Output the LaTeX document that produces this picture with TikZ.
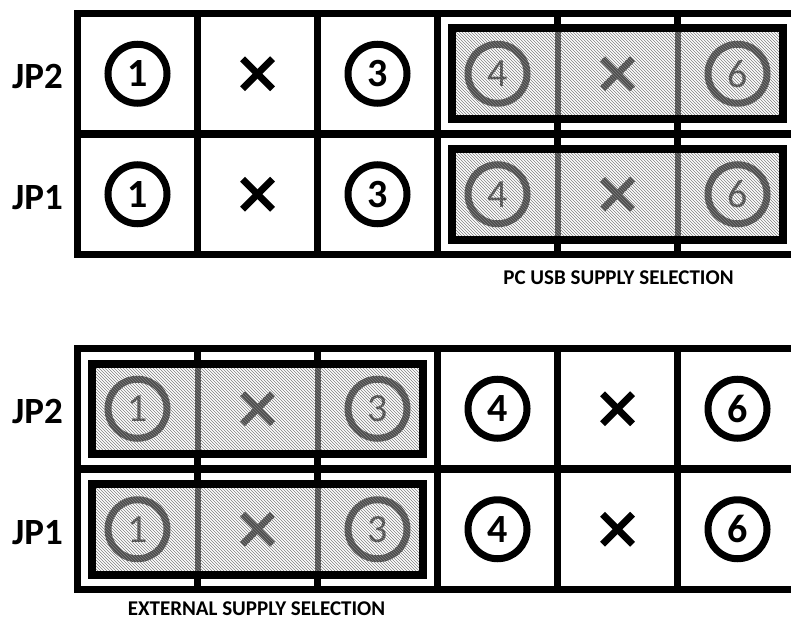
\documentclass[tikz,border=0pt]{standalone}
\usepackage{fontspec}
\setmainfont{Carlito}
\usetikzlibrary{patterns}
\definecolor{pingrey}{gray}{0.3}
\definecolor{hatchgrey}{gray}{0.5}
\tikzset{
  gridline/.style={line width=7.5pt, line join=miter},
  hlbox/.style={line width=8pt, line join=miter},
  jplabel/.style={font=\bfseries\fontsize{37}{37}\selectfont, anchor=east, inner sep=0pt},
  pinring/.style={circle, draw, line width=7pt, minimum size=59pt, inner sep=0pt, font=\fontsize{40}{40}\selectfont},
  xmark/.style={line width=7pt},
  caption/.style={font=\bfseries\fontsize{21}{21}\selectfont, inner sep=0pt},
}
\newcommand\jpblock[3]{%
  \pgfmathsetmacro\ya{#1}%
  \pgfmathsetmacro\yb{#1+120.5}%
  \pgfmathsetmacro\yc{#1+241}%
  \draw[gridline] (77.5,\ya) rectangle (797.5,\yc);
  \draw[gridline] (77.5,\yb) -- (797.5,\yb);
  \foreach \xx in {197.5,317.5,437.5,557.5,677.5} \draw[gridline] (\xx,\ya) -- (\xx,\yc);
  \pgfmathsetmacro\hxa{77.5+(#3-1)*120+14.5}%
  \pgfmathsetmacro\hxb{77.5+(#3-1)*120+360-14.5}%
  \pgfmathsetmacro\va{77.5+(#3)*120}%
  \pgfmathsetmacro\vb{77.5+(#3+1)*120}%
  \foreach \r in {1,2} {
    \pgfmathsetmacro\ra{#1+(\r-1)*120.5+15}
    \pgfmathsetmacro\rb{#1+\r*120.5-15}
    \pgfmathsetmacro\ym{#1+(\r-0.5)*120.5}
    \pgfmathtruncatemacro\jn{3-\r}
    \node[jplabel] (#2lab\r) at (63,\ym+3) {JP\jn};
    \fill[white] (\hxa,\ra) rectangle (\hxb,\rb);
    \draw[pingrey, line width=6pt] (\va,\ra) -- (\va,\rb);
    \draw[pingrey, line width=6pt] (\vb,\ra) -- (\vb,\rb);
    \foreach \c/\t in {1/1,3/3,4/4,6/6} {
      \pgfmathsetmacro\xm{77.5+(\c-0.5)*120}
      \pgfmathtruncatemacro\grp{\c>3 ? 4 : 1}
      \ifnum\grp=#3 \def\pcol{pingrey}\def\pf{\mdseries}\else\def\pcol{black}\def\pf{\bfseries}\fi
      \node[pinring, draw=\pcol, text=\pcol] (#2p\c\r) at (\xm,\ym) {\raisebox{-3pt}{\pf\t}};
    }
    \foreach \c in {2,5} {
      \pgfmathsetmacro\xm{77.5+(\c-0.5)*120}
      \pgfmathtruncatemacro\grp{\c>3 ? 4 : 1}
      \ifnum\grp=#3 \def\pcol{pingrey}\else\def\pcol{black}\fi
      \draw[xmark, \pcol] (\xm-15,\ym-15) -- (\xm+15,\ym+15);
      \draw[xmark, \pcol] (\xm-15,\ym+15) -- (\xm+15,\ym-15);
    }
    \fill[pattern=north west lines, pattern color=hatchgrey] (\hxa,\ra) rectangle (\hxb,\rb);
    \draw[hlbox] (\hxa,\ra) rectangle (\hxb,\rb);
  }
}
\begin{document}
\begin{tikzpicture}[x=1pt,y=-1pt]
\useasboundingbox (0,0) rectangle (791,620);
\clip (0,0) rectangle (791,620);
\jpblock{13.5}{t}{4}
\jpblock{348.5}{b}{1}
\node[caption] (capusb) at (618.5,277.5) {PC USB SUPPLY SELECTION};
\node[caption] (capext) at (256.5,609) {EXTERNAL SUPPLY SELECTION};
\end{tikzpicture}
\end{document}
